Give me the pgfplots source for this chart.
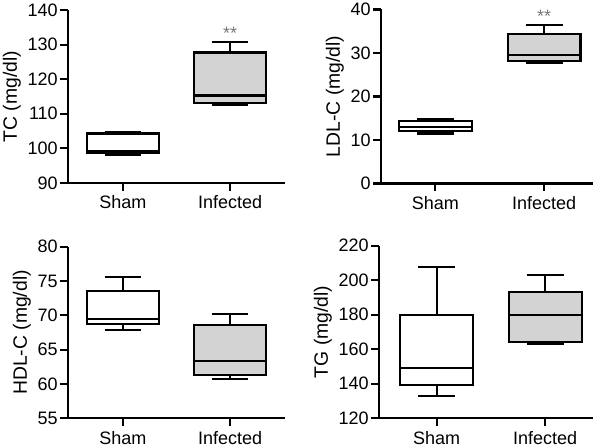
\documentclass[border=0pt]{standalone}
\usepackage{pgfplots}
\pgfplotsset{compat=1.18}
\usepgfplotslibrary{statistics}
\usepackage{fontspec}
\setmainfont{Liberation Sans}
\definecolor{boxgray}{RGB}{211,211,211}
\definecolor{stargray}{RGB}{120,120,120}
\pgfplotsset{
  panel/.style={
    scale only axis,
    axis lines*=left,
    axis line style={line width=1.6pt, black},
    every outer x axis line/.append style={line width=1.6pt},
    every outer y axis line/.append style={line width=1.6pt},
    every tick/.append style={line width=1.6pt, black},
    major tick style={line width=1.6pt, black},
    major tick length=6pt,
    tick align=outside,
    xtick={0,1},
    xticklabels={Sham,Infected},
    /pgf/number format/assume math mode=true,
    tick label style={font=\fontsize{13.5}{16}\selectfont},
    yticklabel style={inner sep=1.5pt},
    label style={font=\fontsize{14.5}{16}\selectfont},
    boxplot/draw direction=y,
    clip=false,
  },
  bx/.style={draw=black, line width=1.6pt, solid, mark=none},
}
\begin{document}
\begin{tikzpicture}
\useasboundingbox (0,0) rectangle (450pt,-336pt);
% TC
\begin{axis}[panel, at={(51pt,-137.25pt)}, anchor=south west,
  width=162.75pt, height=129.75pt,
  xmin=-0.51, xmax=1.51, ymin=90, ymax=140, ytick={90,100,110,120,130,140},
  ylabel={TC (mg/dl)}]
\addplot[bx, fill=white, boxplot prepared={lower whisker=98.2, lower quartile=98.8, median=99.1, upper quartile=104.3, upper whisker=104.7, draw position=0, box extend=0.67, whisker extend=0.34}] coordinates {};
\addplot[bx, fill=boxgray, boxplot prepared={lower whisker=112.7, lower quartile=113.2, median=115.3, upper quartile=127.7, upper whisker=130.7, draw position=1, box extend=0.67, whisker extend=0.34}] coordinates {};
\node[anchor=base, text=stargray, font=\fontsize{13.5}{16}\selectfont] at (axis cs:1,131.4) {**};
\end{axis}
% LDL-C
\begin{axis}[panel, at={(285.75pt,-137.6pt)}, anchor=south west,
  width=159pt, height=130.5pt,
  xmin=-0.5, xmax=1.45, ymin=0, ymax=40, ytick={0,10,20,30,40},
  ylabel={LDL-C (mg/dl)}]
\addplot[bx, fill=white, boxplot prepared={lower whisker=11.5, lower quartile=12.0, median=13.0, upper quartile=14.4, upper whisker=14.8, draw position=0, box extend=0.67, whisker extend=0.34}] coordinates {};
\addplot[bx, fill=boxgray, boxplot prepared={lower whisker=27.6, lower quartile=28.2, median=29.5, upper quartile=34.4, upper whisker=36.4, draw position=1, box extend=0.67, whisker extend=0.34}] coordinates {};
\node[anchor=base, text=stargray, font=\fontsize{13.5}{16}\selectfont] at (axis cs:1,36.9) {**};
\end{axis}
% HDL-C
\begin{axis}[panel, at={(51pt,-313.7pt)}, anchor=south west,
  width=162.75pt, height=128.7pt,
  xmin=-0.51, xmax=1.51, ymin=55, ymax=80, ytick={55,60,65,70,75,80},
  ylabel={HDL-C (mg/dl)}]
\addplot[bx, fill=white, boxplot prepared={lower whisker=67.9, lower quartile=68.7, median=69.4, upper quartile=73.6, upper whisker=75.6, draw position=0, box extend=0.67, whisker extend=0.34}] coordinates {};
\addplot[bx, fill=boxgray, boxplot prepared={lower whisker=60.7, lower quartile=61.3, median=63.3, upper quartile=68.6, upper whisker=70.2, draw position=1, box extend=0.67, whisker extend=0.34}] coordinates {};
\end{axis}
% TG
\begin{axis}[panel, at={(284.25pt,-313.7pt)}, anchor=south west,
  width=160.5pt, height=129.45pt,
  xmin=-0.53, xmax=1.44, ymin=120, ymax=220, ytick={120,140,160,180,200,220},
  ylabel={TG (mg/dl)}]
\addplot[bx, fill=white, boxplot prepared={lower whisker=132.8, lower quartile=139.4, median=149.0, upper quartile=179.8, upper whisker=207.5, draw position=0, box extend=0.67, whisker extend=0.34}] coordinates {};
\addplot[bx, fill=boxgray, boxplot prepared={lower whisker=162.8, lower quartile=164.2, median=180.0, upper quartile=193.0, upper whisker=202.8, draw position=1, box extend=0.67, whisker extend=0.34}] coordinates {};
\end{axis}
\end{tikzpicture}
\end{document}
